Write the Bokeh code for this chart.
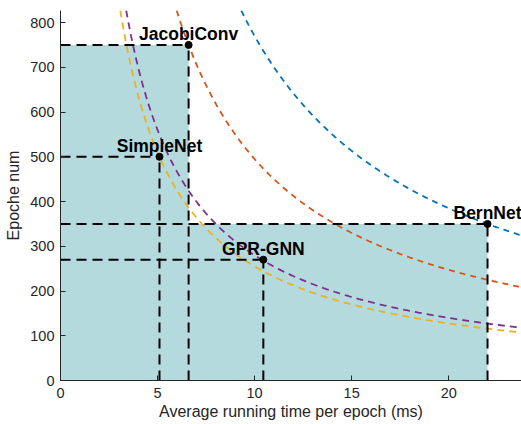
import numpy as np
from bokeh.plotting import figure
from bokeh.models import Range1d, FixedTicker, ColumnDataSource
from bokeh.core.properties import value
from bokeh.embed import file_html
from bokeh.resources import INLINE

# data
models = ["JacobiConv", "SimpleNet", "GPR-GNN", "BernNet"]
time_ms = [6.6, 5.1, 10.45, 22.0]
epochs = [750, 500, 270, 350]

# iso-cost curves y = k / x
curve_k = [7700, 4950, 2550, 2800]
curve_colors = ["#0072BD", "#D95319", "#EDB120", "#7E2F8E"]
curve_dash = ["6 5", "6 5", "7 5", "7 5"]

x_ticks = [0, 5, 10, 15, 20]
y_ticks = [0, 100, 200, 300, 400, 500, 600, 700, 800]

XMAX, YMAX = 23.75, 827

p = figure(width=521, height=424, output_backend="svg", toolbar_location=None,
           x_range=Range1d(0, XMAX), y_range=Range1d(0, YMAX),
           min_border_left=60, min_border_right=0, min_border_top=10, min_border_bottom=44)
p.outline_line_color = None
p.xgrid.visible = False
p.ygrid.visible = False
p.background_fill_color = "white"

src = ColumnDataSource(dict(name=models, x=time_ms, y=epochs,
                            zero=[0] * len(models)))

# shaded rectangles
p.quad(left="zero", right="x", bottom="zero", top="y", source=src,
       fill_color="#B4DADD", line_color=None)

# curves
for k, c, d in zip(curve_k, curve_colors, curve_dash):
    xs = np.linspace(k / YMAX, XMAX, 400)
    p.line(xs, k / xs, line_color=c, line_width=1.8, line_dash=d)

# dashed guide lines
p.segment(x0="zero", y0="y", x1="x", y1="y", source=src,
          line_color="black", line_width=2, line_dash="10 6")
p.segment(x0="x", y0="zero", x1="x", y1="y", source=src,
          line_color="black", line_width=2, line_dash="10 6")

# points
p.scatter("x", "y", source=src, size=7, color="black")

# labels
p.text("x", "y", text="name", source=src, text_align="center",
       text_baseline="alphabetic", y_offset=-10.5,
       text_font=value("Liberation Sans"), text_font_style="bold",
       text_font_size="17.5px", text_color="black")

for ax in (p.xaxis, p.yaxis):
    ax.axis_line_color = "#262626"
    ax.major_tick_line_color = "#262626"
    ax.minor_tick_line_color = None
    ax.major_tick_in = 5
    ax.major_tick_out = 0
    ax.major_label_text_font = "Liberation Sans"
    ax.major_label_text_font_size = "14.5px"
    ax.major_label_text_color = "#262626"
    ax.axis_label_text_font = "Liberation Sans"
    ax.axis_label_text_font_size = "16px"
    ax.axis_label_text_font_style = "normal"
    ax.axis_label_text_color = "#262626"

p.xaxis.ticker = FixedTicker(ticks=x_ticks)
p.yaxis.ticker = FixedTicker(ticks=y_ticks)
p.xaxis.axis_label = "Average running time per epoch (ms)"
p.yaxis.axis_label = "Epoche num"
p.xaxis.major_label_standoff = 7
p.xaxis.axis_label_standoff = 2
p.yaxis.major_label_standoff = 6
p.yaxis.axis_label_standoff = 5

open("out.html", "w").write(file_html(p, INLINE))
